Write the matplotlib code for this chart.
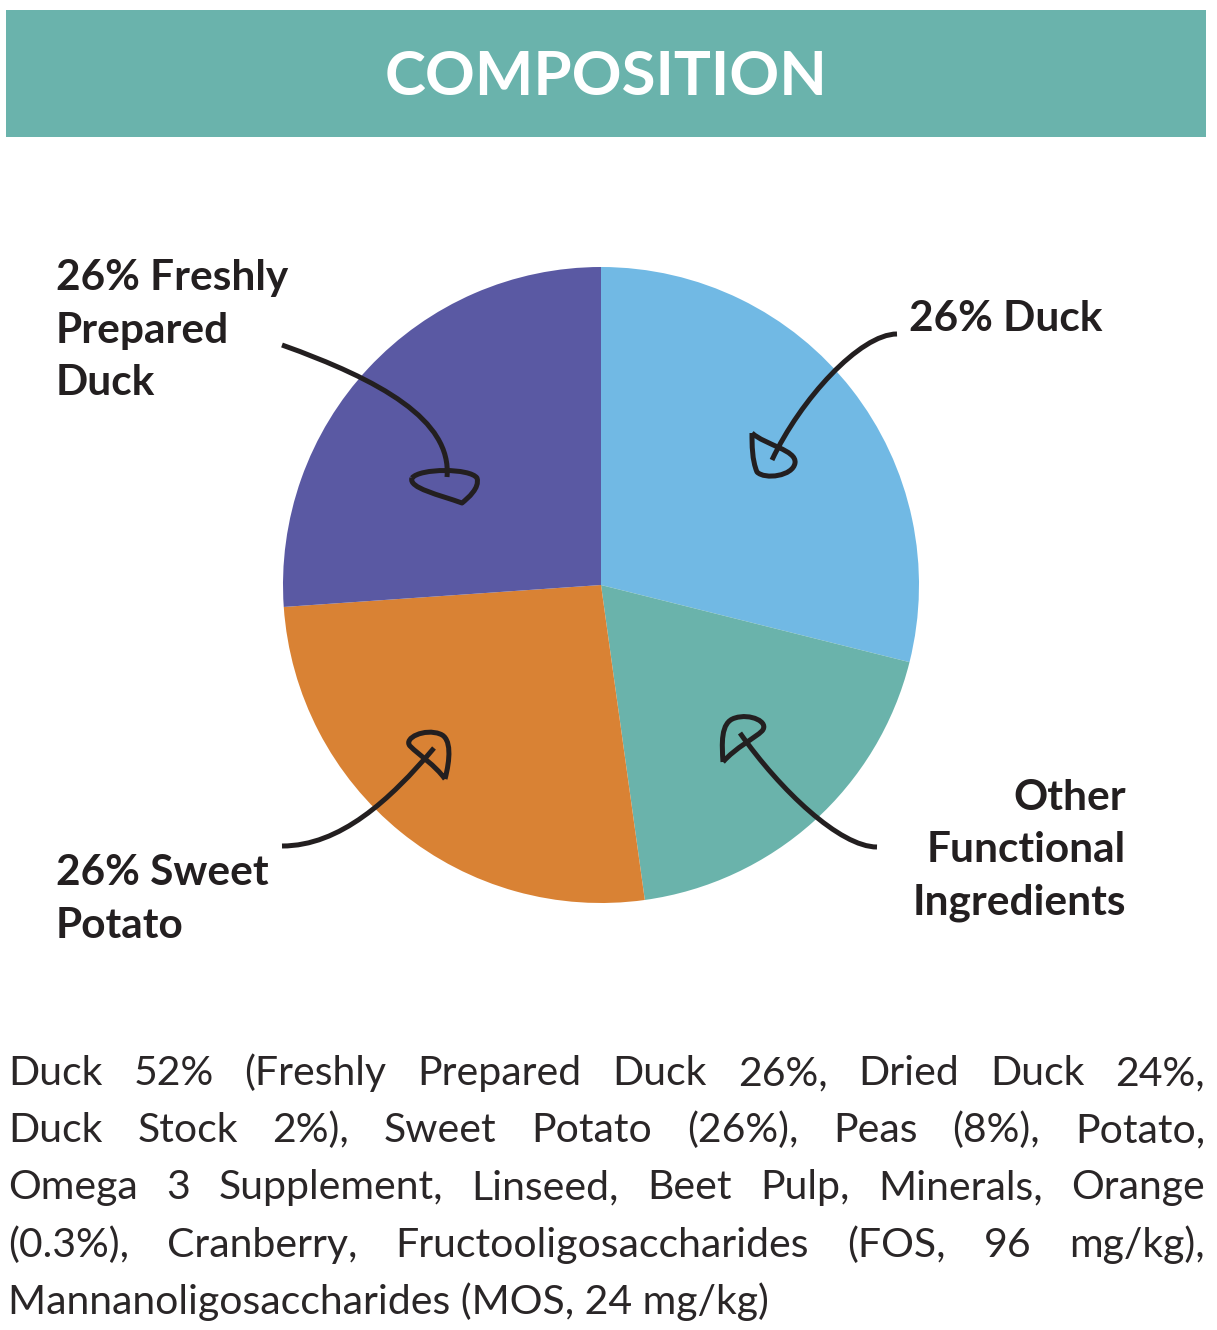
import matplotlib
matplotlib.use("Agg")
import matplotlib.pyplot as plt
from matplotlib.path import Path
from matplotlib.patches import PathPatch, Rectangle

# ---------------- data ----------------
title = "COMPOSITION"
slice_names = ["26% Duck", "Other Functional Ingredients", "26% Sweet Potato", "26% Freshly Prepared Duck"]
slice_values = [28.9, 18.9, 26.1, 26.1]
slice_colors = ["#71B9E4", "#6AB3AB", "#D98234", "#5A59A3"]
body_lines = [
    "Duck 52% (Freshly Prepared Duck 26%, Dried Duck 24%,",
    "Duck Stock 2%), Sweet Potato (26%), Peas (8%), Potato,",
    "Omega 3 Supplement, Linseed, Beet Pulp, Minerals, Orange",
    "(0.3%), Cranberry, Fructooligosaccharides (FOS, 96 mg/kg),",
    "Mannanoligosaccharides (MOS, 24 mg/kg)",
]

W, H = 1217, 1330
DPI = 100
INK = "#231F20"
fig = plt.figure(figsize=(W / DPI, H / DPI), dpi=DPI)
fig.patch.set_facecolor("white")

# pie axes
cx, cy, r = 601, 585, 318
pax = fig.add_axes([(cx - r) / W, (H - cy - r) / H, 2 * r / W, 2 * r / H])
pax.pie(slice_values, colors=slice_colors, startangle=90, counterclock=False,
        radius=1, wedgeprops=dict(linewidth=0))
pax.set_xlim(-1, 1)
pax.set_ylim(-1, 1)
pax.set_aspect("equal")
pax.axis("off")

# overlay axes in pixel coords
ax = fig.add_axes([0, 0, 1, 1], facecolor="none")
ax.set_xlim(0, W)
ax.set_ylim(H, 0)
ax.axis("off")

ax.add_patch(Rectangle((6, 10), 1200, 127, facecolor="#6AB3AC", edgecolor="none"))
ax.text(606, 95, title, color="white", fontsize=44.5, fontfamily="Lato",
        fontweight="bold", ha="center", va="baseline")

# labels
lab = dict(color=INK, fontsize=30.5, fontfamily="Lato", fontweight="bold", va="baseline")
for i, s in enumerate(["26% Freshly", "Prepared", "Duck"]):
    ax.text(56, 290 + 52.5 * i, s, ha="left", **lab)
ax.text(909, 331, "26% Duck", ha="left", **lab)
for i, s in enumerate(["Other", "Functional", "Ingredients"]):
    ax.text(1126, 810 + 52.5 * i, s, ha="right", **lab)
for i, s in enumerate(["26% Sweet", "Potato"]):
    ax.text(56, 885 + 52.5 * i, s, ha="left", **lab)

# hand drawn arrows
M, C, L, Z = Path.MOVETO, Path.CURVE4, Path.LINETO, Path.CLOSEPOLY
def draw(verts, codes):
    ax.add_patch(PathPatch(Path(verts, codes), facecolor="none", edgecolor=INK,
                           linewidth=3.6, capstyle="butt", joinstyle="round"))

# purple
draw([(282, 345), (380, 380), (452, 420), (447, 477)], [M, C, C, C])
draw([(412, 478), (420, 468), (470, 468), (477, 478), (480, 488), (468, 498), (462, 503),
      (440, 495), (408, 488), (412, 478)], [M, C, C, C, C, C, C, C, C, C])
# blue
draw([(897, 334), (860, 334), (800, 400), (772, 460)], [M, C, C, C])
draw([(752, 433), (765, 445), (797, 450), (795, 463), (793, 476), (765, 480), (757, 472),
      (752, 460), (752, 445), (752, 433)], [M, C, C, C, C, C, C, C, C, C])
# orange
draw([(282, 846), (340, 846), (390, 800), (434, 748)], [M, C, C, C])
draw([(445, 779), (450, 760), (452, 738), (440, 734), (425, 728), (403, 738), (410, 746),
      (420, 756), (435, 765), (445, 779)], [M, C, C, C, C, C, C, C, C, C])
# teal
draw([(877, 847), (840, 847), (780, 790), (740, 733)], [M, C, C, C])
draw([(723, 762), (722, 745), (720, 722), (735, 718), (750, 713), (770, 722), (762, 731),
      (755, 738), (735, 748), (723, 762)], [M, C, C, C, C, C, C, C, C, C])

# justified body text
body = dict(color="#2A2627", fontsize=29.5, fontfamily="Lato", fontweight="normal", va="baseline")
fig.canvas.draw()
renderer = fig.canvas.get_renderer()
x0, x1 = 8, 1205
for li, line in enumerate(body_lines):
    y = 1085 + 57.2 * li
    words = line.split(" ")
    if li == len(body_lines) - 1:
        ax.text(x0, y, line, ha="left", **body)
        continue
    arts = [ax.text(0, y, w_, ha="left", **body) for w_ in words]
    widths = [a.get_window_extent(renderer).width for a in arts]
    gap = (x1 - x0 - sum(widths)) / (len(words) - 1)
    x = x0
    for a, wd in zip(arts, widths):
        a.set_x(x)
        x += wd + gap

fig.savefig("out.png", dpi=DPI, facecolor="white")
